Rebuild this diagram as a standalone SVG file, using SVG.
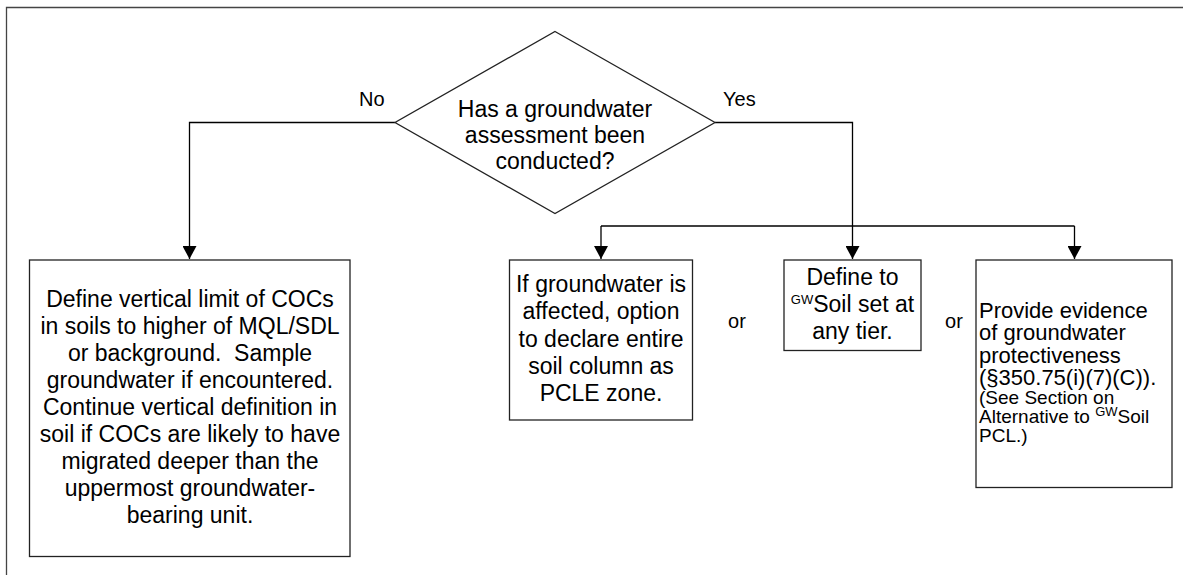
<svg xmlns="http://www.w3.org/2000/svg" width="1183" height="575" viewBox="0 0 1183 575">
<style>
  .box { fill: #fff; stroke: #222; stroke-width: 1.3; }
  .t { font-family: "Liberation Sans", Arial, sans-serif; font-size: 23px; fill: #000; }
  .m { text-anchor: middle; }
  .lbl { font-family: "Liberation Sans", Arial, sans-serif; font-size: 20px; fill: #000; }
  .ev { font-family: "Liberation Sans", Arial, sans-serif; font-size: 22px; fill: #000; }
  .sm { font-family: "Liberation Sans", Arial, sans-serif; font-size: 19px; fill: #000; }
  .sup { font-size: 13px; }
  .conn { fill: none; stroke: #000; stroke-width: 1.3; }
  .frame { fill: none; stroke: #444; stroke-width: 1.3; }
</style>
<defs>
  <marker id="arr" markerUnits="userSpaceOnUse" markerWidth="14" markerHeight="14" refX="13" refY="7" orient="auto" viewBox="0 0 14 14">
    <path d="M0,0 L13,7 L0,14 z" fill="#000"/>
  </marker>
</defs>
<rect width="1183" height="575" fill="#fff"/>
<path class="frame" d="M6.5,575 V7.5 H1183"/>

<g id="connectors">
  <path class="conn" d="M395,122.5 H189.5 V259" marker-end="url(#arr)"/>
  <path class="conn" d="M715,122.5 H852.5 V259" marker-end="url(#arr)"/>
  <path class="conn" d="M601,226 H1074.5"/>
  <path class="conn" d="M601,226 V259" marker-end="url(#arr)"/>
  <path class="conn" d="M1074.5,226 V259" marker-end="url(#arr)"/>
  <text class="lbl" x="359" y="106">No</text>
  <text class="lbl" x="723" y="106">Yes</text>
  <text class="lbl" x="737" y="328" text-anchor="middle">or</text>
  <text class="lbl" x="954" y="328" text-anchor="middle">or</text>
</g>

<g id="decision">
  <polygon class="box" points="555,31.5 715,122.5 555,213.5 395,122.5"/>
  <text class="t m" x="555" y="116.5">Has a groundwater</text>
  <text class="t m" x="555" y="142.5">assessment been</text>
  <text class="t m" x="555" y="168.5">conducted?</text>
</g>

<g id="no-box">
  <rect class="box" x="29.5" y="260" width="320.5" height="296.5"/>
  <text class="t m" x="190" y="307">Define vertical limit of COCs</text>
  <text class="t m" x="190" y="334">in soils to higher of MQL/SDL</text>
  <text class="t m" x="190" y="361" xml:space="preserve">or background.  Sample</text>
  <text class="t m" x="190" y="388">groundwater if encountered.</text>
  <text class="t m" x="190" y="415">Continue vertical definition in</text>
  <text class="t m" x="190" y="442">soil if COCs are likely to have</text>
  <text class="t m" x="190" y="469">migrated deeper than the</text>
  <text class="t m" x="190" y="496">uppermost groundwater-</text>
  <text class="t m" x="190" y="523">bearing unit.</text>
</g>

<g id="pcle-box">
  <rect class="box" x="509.5" y="260" width="183" height="160"/>
  <text class="t m" x="601" y="292">If groundwater is</text>
  <text class="t m" x="601" y="319">affected, option</text>
  <text class="t m" x="601" y="346.5">to declare entire</text>
  <text class="t m" x="601" y="374">soil column as</text>
  <text class="t m" x="601" y="401">PCLE zone.</text>
</g>

<g id="define-box">
  <rect class="box" x="784" y="260" width="137" height="90.5"/>
  <text class="t m" x="852.5" y="284.5">Define to</text>
  <text class="t m" x="852.5" y="311.5"><tspan class="sup" dy="-8">GW</tspan><tspan dy="8">Soil set at</tspan></text>
  <text class="t m" x="852.5" y="338.5">any tier.</text>
</g>

<g id="evidence-box">
  <rect class="box" x="976" y="260" width="196" height="227.5"/>
  <text class="ev" x="979" y="317.5">Provide evidence</text>
  <text class="ev" x="979" y="340">of groundwater</text>
  <text class="ev" x="979" y="362.5">protectiveness</text>
  <text class="ev" x="979" y="385">(§350.75(i)(7)(C)).</text>
  <text class="sm" x="979" y="404">(See Section on</text>
  <text class="sm" x="979" y="423">Alternative to <tspan class="sup" dy="-7">GW</tspan><tspan dy="7">Soil</tspan></text>
  <text class="sm" x="979" y="442">PCL.)</text>
</g>
</svg>
